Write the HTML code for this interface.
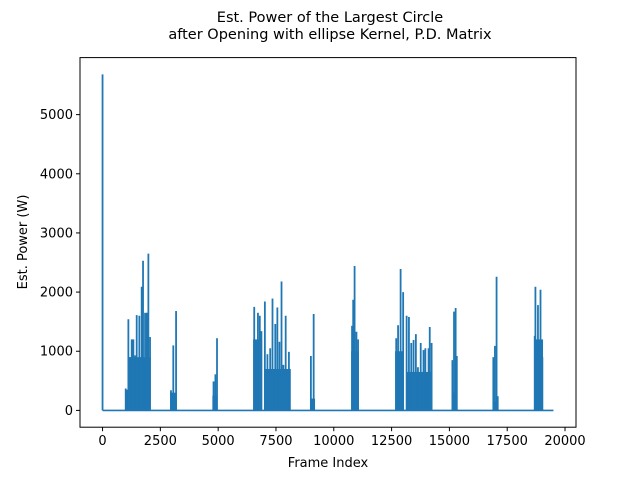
<!DOCTYPE html>
<html><head><meta charset="utf-8"><style>
body{margin:0;background:#fff;}
svg{display:block;font-family:"DejaVu Sans","Liberation Sans",sans-serif;}
</style></head><body>
<svg id="chart" width="640" height="480">
<text x="330" y="22" text-anchor="middle" font-size="14.5">Est. Power of the Largest Circle</text>
<text x="330" y="39" text-anchor="middle" font-size="14.5">after Opening with ellipse Kernel, P.D. Matrix</text>
<text x="328" y="467" text-anchor="middle" font-size="13">Frame Index</text>
<text transform="translate(27,242) rotate(-90)" text-anchor="middle" font-size="13">Est. Power (W)</text>
<g id="marks"></g>
<rect x="80" y="57.6" width="496" height="369.6" fill="none" stroke="#000" stroke-width="1"/>
<g id="axes"></g>
</svg>
<script>
const xTicks=[0,2500,5000,7500,10000,12500,15000,17500,20000];
const xTickLabels=["0","2500","5000","7500","10000","12500","15000","17500","20000"];
const yTicks=[0,1000,2000,3000,4000,5000];
const yTickLabels=["0","1000","2000","3000","4000","5000"];
// dense burst regions: start frame, end frame, filled level
const burstStart=[1000,1100,2920,4750,6510,6985,8970,10750,12650,13125,15100,16880,18660];
const burstEnd=[1100,2080,3210,4965,6900,8140,9190,11090,13000,14250,15340,17100,19050];
const burstLevel=[350,900,300,250,1200,700,200,1000,1000,650,300,150,1200];
// individual peaks
const spikeFrames=[0,1002,1117,1189,1261,1333,1405,1477,1592,1693,1751,1838,1910,1982,2054,
2960,3060,3180,4800,4880,4950,6560,6720,6800,6870,7020,7130,7250,7350,7470,7560,7650,7740,7820,7920,8060,
9010,9130,10790,10840,10900,10980,11050,12700,12780,12890,13000,13150,13250,13350,13450,13550,13640,13760,13880,13960,14100,14150,14230,
15130,15200,15270,15320,16900,16970,17040,17090,18690,18720,18830,18940,19020];
const spikeValues=[5680,370,1540,900,1200,1200,930,1610,1600,2090,2530,1650,1650,2650,1240,
340,1100,1680,490,610,1220,1750,1650,1600,1340,1840,950,1050,1890,1460,1740,1160,2180,770,1600,990,
920,1630,1430,1870,2440,1330,1200,1220,1440,2390,2000,1600,1580,1140,1190,1290,730,1140,1020,1050,1050,1410,1140,
850,1670,1730,920,900,1090,2260,240,1260,2090,1780,2040,900];
const lineStart=0, lineEnd=19500;
const xMin=-975,xMax=20475,yMin=-284,yMax=5964;
const L=80,R=576,T=57.6,B=427.2;
const xs=v=>L+(v-xMin)/(xMax-xMin)*(R-L);
const ys=v=>B-(v-yMin)/(yMax-yMin)*(B-T);
const NS="http://www.w3.org/2000/svg";
const marks=document.getElementById('marks'),axes=document.getElementById('axes');
const C="#1f77b4";
const base=document.createElementNS(NS,'line');


base.setAttribute('x1',xs(lineStart));base.setAttribute('x2',xs(lineEnd));
base.setAttribute('y1',ys(0));base.setAttribute('y2',ys(0));
base.setAttribute('stroke',C);base.setAttribute('stroke-width','1.6');
marks.appendChild(base);
for(let i=0;i<burstStart.length;i++){
 const r=document.createElementNS(NS,'rect');
 
 
 r.setAttribute('x',xs(burstStart[i]));r.setAttribute('width',xs(burstEnd[i])-xs(burstStart[i]));
 r.setAttribute('y',ys(burstLevel[i]));r.setAttribute('height',ys(0)-ys(burstLevel[i]));
 r.setAttribute('fill',C);
 marks.appendChild(r);
}
for(let i=0;i<spikeFrames.length;i++){
 const l=document.createElementNS(NS,'line');
 
 
 l.setAttribute('x1',xs(spikeFrames[i]));l.setAttribute('x2',xs(spikeFrames[i]));
 l.setAttribute('y1',ys(0));l.setAttribute('y2',ys(spikeValues[i]));
 l.setAttribute('stroke',C);l.setAttribute('stroke-width','1.8');
 marks.appendChild(l);
}
xTicks.forEach((v,i)=>{
 const t=document.createElementNS(NS,'line');
 
 
 t.setAttribute('x1',xs(v));t.setAttribute('x2',xs(v));t.setAttribute('y1',B);t.setAttribute('y2',B+4);
 t.setAttribute('stroke','#000');axes.appendChild(t);
 const s=document.createElementNS(NS,'text');
 
 
 s.setAttribute('x',xs(v));s.setAttribute('y',B+18);s.setAttribute('text-anchor','middle');s.setAttribute('font-size','13');
 s.textContent=xTickLabels[i];axes.appendChild(s);
});
yTicks.forEach((v,i)=>{
 const t=document.createElementNS(NS,'line');
 
 
 t.setAttribute('x1',L-4);t.setAttribute('x2',L);t.setAttribute('y1',ys(v));t.setAttribute('y2',ys(v));
 t.setAttribute('stroke','#000');axes.appendChild(t);
 const s=document.createElementNS(NS,'text');
 
 
 s.setAttribute('x',L-7);s.setAttribute('y',ys(v)+4.5);s.setAttribute('text-anchor','end');s.setAttribute('font-size','13');
 s.textContent=yTickLabels[i];axes.appendChild(s);
});
</script>
</body></html>
